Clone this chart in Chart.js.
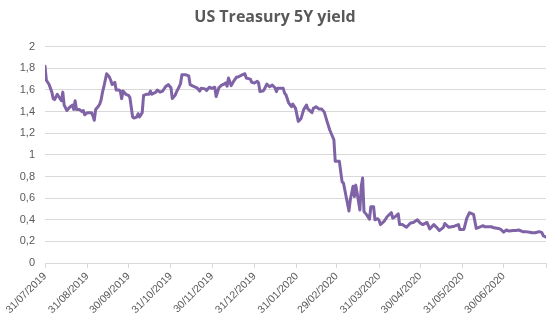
<!DOCTYPE html>
<html>
<head>
<meta charset="utf-8">
<script src="https://cdn.jsdelivr.net/npm/chart.js@4"></script>
<style>
  html, body { margin: 0; padding: 0; background: #fff; }
  #wrap { width: 557px; height: 325px; }
</style>
</head>
<body>
<div id="wrap"><canvas id="yieldChart" width="557" height="325"></canvas></div>
<script>
// data
const dates = [
  '2019-07-31','2019-08-01','2019-08-03','2019-08-05','2019-08-06','2019-08-07','2019-08-09','2019-08-10',
  '2019-08-12','2019-08-13','2019-08-14','2019-08-16','2019-08-18','2019-08-20','2019-08-21','2019-08-22',
  '2019-08-23','2019-08-25','2019-08-27','2019-08-28','2019-08-29','2019-08-31','2019-09-03','2019-09-04',
  '2019-09-05','2019-09-06','2019-09-08','2019-09-09','2019-09-10','2019-09-11','2019-09-12','2019-09-14',
  '2019-09-16','2019-09-17','2019-09-18','2019-09-20','2019-09-21','2019-09-23','2019-09-24','2019-09-25',
  '2019-09-26','2019-09-28','2019-09-30','2019-10-01','2019-10-03','2019-10-04','2019-10-06','2019-10-07',
  '2019-10-08','2019-10-10','2019-10-11','2019-10-13','2019-10-15','2019-10-16','2019-10-17','2019-10-20',
  '2019-10-21','2019-10-23','2019-10-25','2019-10-27','2019-10-29','2019-10-31','2019-11-01','2019-11-03',
  '2019-11-04','2019-11-06','2019-11-07','2019-11-08','2019-11-11','2019-11-13','2019-11-14','2019-11-17',
  '2019-11-19','2019-11-21','2019-11-22','2019-11-25','2019-11-26','2019-11-28','2019-11-30','2019-12-02',
  '2019-12-03','2019-12-05','2019-12-07','2019-12-09','2019-12-10','2019-12-11','2019-12-12','2019-12-14',
  '2019-12-16','2019-12-18','2019-12-19','2019-12-22','2019-12-24','2019-12-25','2019-12-28','2019-12-29',
  '2019-12-31','2020-01-02','2020-01-03','2020-01-04','2020-01-06','2020-01-07','2020-01-09','2020-01-11',
  '2020-01-13','2020-01-15','2020-01-16','2020-01-17','2020-01-21','2020-01-22','2020-01-23','2020-01-25',
  '2020-01-27','2020-01-28','2020-01-30','2020-02-01','2020-02-03','2020-02-05','2020-02-07','2020-02-08',
  '2020-02-11','2020-02-12','2020-02-14','2020-02-16','2020-02-18','2020-02-20','2020-02-22','2020-02-24',
  '2020-02-26','2020-02-27','2020-02-28','2020-03-02','2020-03-04','2020-03-05','2020-03-07','2020-03-09',
  '2020-03-10','2020-03-12','2020-03-13','2020-03-14','2020-03-15','2020-03-17','2020-03-18','2020-03-19',
  '2020-03-20','2020-03-22','2020-03-24','2020-03-25','2020-03-27','2020-03-28','2020-03-30','2020-03-31',
  '2020-04-01','2020-04-04','2020-04-06','2020-04-09','2020-04-10','2020-04-12','2020-04-14','2020-04-15',
  '2020-04-17','2020-04-20','2020-04-23','2020-04-25','2020-04-28','2020-04-30','2020-05-02','2020-05-05',
  '2020-05-07','2020-05-10','2020-05-12','2020-05-14','2020-05-17','2020-05-18','2020-05-21','2020-05-23',
  '2020-05-25','2020-05-28','2020-05-29','2020-06-01','2020-06-03','2020-06-05','2020-06-08','2020-06-10',
  '2020-06-12','2020-06-15','2020-06-16','2020-06-18','2020-06-21','2020-06-23','2020-06-26','2020-06-28',
  '2020-06-30','2020-07-02','2020-07-04','2020-07-07','2020-07-09','2020-07-11','2020-07-14','2020-07-16',
  '2020-07-19','2020-07-21','2020-07-23','2020-07-26','2020-07-28','2020-07-29','2020-07-31'
];
const yields = [
  1.82,1.69,1.65,1.58,1.52,1.51,1.56,1.54,
  1.50,1.58,1.46,1.41,1.44,1.46,1.42,1.50,
  1.42,1.42,1.40,1.41,1.37,1.39,1.39,1.36,
  1.32,1.42,1.45,1.47,1.51,1.58,1.63,1.75,
  1.72,1.69,1.65,1.67,1.60,1.60,1.59,1.52,
  1.59,1.56,1.55,1.53,1.35,1.34,1.35,1.38,
  1.35,1.39,1.55,1.56,1.56,1.59,1.56,1.58,
  1.60,1.58,1.59,1.63,1.65,1.62,1.52,1.55,
  1.58,1.63,1.66,1.74,1.74,1.73,1.65,1.63,
  1.62,1.59,1.615,1.61,1.595,1.625,1.615,1.625,
  1.54,1.62,1.645,1.655,1.665,1.635,1.71,1.64,
  1.685,1.72,1.72,1.74,1.75,1.71,1.70,1.67,
  1.665,1.68,1.665,1.585,1.59,1.60,1.655,1.63,
  1.645,1.62,1.585,1.615,1.615,1.57,1.555,1.48,
  1.445,1.47,1.43,1.31,1.335,1.42,1.46,1.425,
  1.39,1.43,1.445,1.425,1.425,1.395,1.31,1.23,
  1.17,1.14,0.94,0.94,0.75,0.74,0.61,0.48,
  0.585,0.71,0.615,0.72,0.645,0.49,0.71,0.785,
  0.475,0.445,0.405,0.52,0.52,0.40,0.41,0.395,
  0.355,0.39,0.43,0.465,0.415,0.43,0.455,0.355,
  0.355,0.33,0.37,0.375,0.40,0.37,0.355,0.375,
  0.315,0.355,0.33,0.30,0.33,0.365,0.33,0.335,
  0.34,0.355,0.31,0.31,0.41,0.465,0.45,0.32,
  0.33,0.345,0.335,0.335,0.335,0.325,0.32,0.31,
  0.285,0.305,0.295,0.30,0.30,0.305,0.29,0.29,
  0.285,0.28,0.28,0.29,0.28,0.25,0.24
];
const tickDates = [
  '2019-07-31','2019-08-31','2019-09-30','2019-10-31','2019-11-30','2019-12-31','2020-01-31',
  '2020-02-29','2020-03-31','2020-04-30','2020-05-31','2020-06-30','2020-07-31'
];
const tickLabels = [
  '31/07/2019','31/08/2019','30/09/2019','31/10/2019','30/11/2019','31/12/2019','31/01/2020',
  '29/02/2020','31/03/2020','30/04/2020','31/05/2020','30/06/2020',''
];

// days since epoch, so the linear axis is a date axis
function dayNum(s) {
  const p = s.split('-');
  return Date.UTC(+p[0], +p[1] - 1, +p[2]) / 86400000;
}
const points = dates.map((d, i) => ({ x: dayNum(d), y: yields[i] }));
const tickDays = tickDates.map(dayNum);

const txt = '#595959';
const grid = '#d9d9d9';

new Chart(document.getElementById('yieldChart'), {
  type: 'line',
  data: {
    datasets: [{
      data: points,
      borderColor: '#7f63a6',
      borderWidth: 3,
      borderJoinStyle: 'round',
      borderCapStyle: 'round',
      pointRadius: 0,
      tension: 0,
      fill: false
    }]
  },
  options: {
    responsive: false,
    animation: false,
    layout: { padding: { left: 0, right: 7, top: 0, bottom: 0 } },
    plugins: {
      legend: { display: false },
      tooltip: { enabled: false },
      title: {
        display: true,
        text: 'US Treasury 5Y yield',
        color: txt,
        font: { family: 'Open Sans', size: 16, weight: 'bold' },
        padding: { top: 8, bottom: 19.5 }
      }
    },
    scales: {
      x: {
        type: 'linear',
        min: tickDays[0],
        max: tickDays[tickDays.length - 1],
        afterBuildTicks: s => { s.ticks = tickDays.map(v => ({ value: v })); },
        afterFit: s => { s.height = 62; },
        grid: { drawOnChartArea: false, drawTicks: true, tickLength: 5, color: grid },
        border: { display: true, color: grid },
        ticks: {
          autoSkip: false,
          minRotation: 45,
          maxRotation: 45,
          color: txt,
          padding: 2,
          font: { family: 'Liberation Sans', size: 10.5 },
          callback: (v, i) => tickLabels[i] || ''
        }
      },
      y: {
        min: 0,
        max: 2,
        afterFit: s => { s.width = 45; },
        grid: { color: grid, drawTicks: false },
        border: { display: false },
        ticks: {
          stepSize: 0.2,
          color: txt,
          padding: 10,
          font: { family: 'Liberation Sans', size: 11 },
          callback: v => String(Math.round(v * 10) / 10).replace('.', ',')
        }
      }
    }
  }
});
</script>
</body>
</html>
